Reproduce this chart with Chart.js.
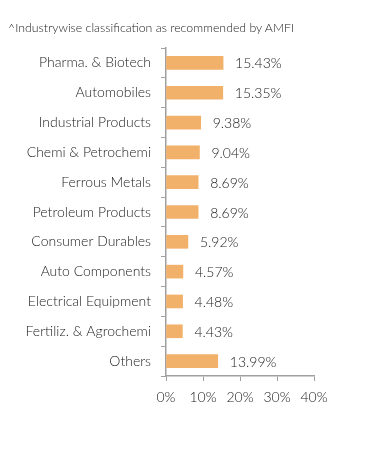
<!DOCTYPE html>
<html>
<head>
<meta charset="utf-8">
<script src="https://cdn.jsdelivr.net/npm/chart.js@4.4.1/dist/chart.umd.min.js"></script>
<style>
  html, body { margin: 0; padding: 0; background: #fff; }
  #wrap { position: relative; width: 391px; height: 450px; }
  #note { position: absolute; left: 8px; top: 20px; font: 300 12.3px Lato, sans-serif; color: #222; }
  canvas { position: absolute; left: 0; top: 0; }
</style>
</head>
<body>
<div id="wrap">
  <canvas id="chart" width="391" height="450"></canvas>
  <div id="note">^Industrywise classification as recommended by AMFI</div>
</div>
<script>
const categories = ['Pharma. & Biotech', 'Automobiles', 'Industrial Products', 'Chemi & Petrochemi',
  'Ferrous Metals', 'Petroleum Products', 'Consumer Durables', 'Auto Components',
  'Electrical Equipment', 'Fertiliz. & Agrochemi', 'Others'];
const weights = [15.43, 15.35, 9.38, 9.04, 8.69, 8.69, 5.92, 4.57, 4.48, 4.43, 13.99];
const xTicks = [0, 10, 20, 30, 40];

const TEXT = '#222222';
const AXIS = '#a0a0a0';

// value labels drawn to the right of each bar
const valueLabels = {
  id: 'valueLabels',
  afterDatasetsDraw(chart) {
    const { ctx } = chart;
    ctx.save();
    ctx.font = '300 14px Lato, sans-serif';
    ctx.fillStyle = TEXT;
    ctx.textBaseline = 'middle';
    chart.getDatasetMeta(0).data.forEach((bar, i) => {
      ctx.fillText(weights[i].toFixed(2) + '%', bar.x + 12, bar.y + 1);
    });
    ctx.restore();
  }
};

new Chart(document.getElementById('chart'), {
  type: 'bar',
  data: {
    labels: categories,
    datasets: [{
      data: weights,
      backgroundColor: '#F2B16B',
      barThickness: 13
    }]
  },
  options: {
    indexAxis: 'y',
    responsive: false,
    animation: false,
    layout: { padding: { top: 48, right: 77, left: 0, bottom: 0 } },
    scales: {
      x: {
        min: 0, max: 40,
        afterBuildTicks(axis) { axis.ticks = xTicks.map(v => ({ value: v })); },
        afterFit(axis) { axis.height = 74; },
        grid: { drawOnChartArea: false, color: AXIS, tickLength: 5, tickColor: AXIS },
        border: { color: AXIS, width: 1.5 },
        ticks: {
          color: TEXT, padding: 8,
          font: { family: 'Lato, sans-serif', size: 14, weight: '300' },
          callback: v => v + '%'
        }
      },
      y: {
        afterFit(axis) { axis.width = 166; },
        grid: { offset: true, drawOnChartArea: false, color: AXIS, tickLength: 5, tickColor: AXIS },
        border: { color: AXIS, width: 1.5 },
        ticks: {
          color: TEXT, padding: 10,
          font: { family: 'Lato, sans-serif', size: 14, weight: '300' }
        }
      }
    },
    plugins: { legend: { display: false }, tooltip: { enabled: false } }
  },
  plugins: [valueLabels]
});
</script>
</body>
</html>
